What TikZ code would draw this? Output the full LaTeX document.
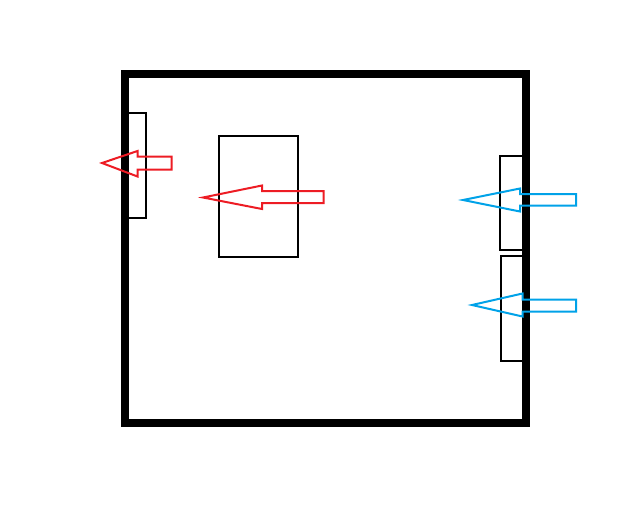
\documentclass[tikz,border=0pt]{standalone}
\definecolor{pred}{RGB}{237,28,36}
\definecolor{pblue}{RGB}{0,162,232}
\tikzset{
  wall/.style={draw=black,line width=8pt},
  panel/.style={draw=black,line width=2pt},
  redarrow/.style={draw=pred,line width=2pt,line join=miter},
  bluearrow/.style={draw=pblue,line width=2pt,line join=miter}
}
\begin{document}
\begin{tikzpicture}[x=1pt,y=-1pt]
\useasboundingbox (0,0) rectangle (640,504);
% panels
\draw[panel] (127,113) rectangle (146,218);
\draw[panel] (218.5,135.5) rectangle (297.5,256.5);
\draw[panel] (500,156) rectangle (524,250);
\draw[panel] (501,256) rectangle (524,360.5);
% outer box
\draw[wall] (124.5,74) rectangle (526,423);
% red arrows
\draw[redarrow] (102,163) -- (137.5,151) -- (137.5,156.5) -- (171.5,156.5) -- (171.5,169.5) -- (137.5,169.5) -- (137.5,176.5) -- cycle;
\draw[redarrow] (203,197.5) -- (262,185.5) -- (262,191) -- (323.5,191) -- (323.5,203) -- (262,203) -- (262,209) -- cycle;
% blue arrows
\draw[bluearrow] (463,200) -- (520,188.5) -- (520,194) -- (576,194) -- (576,205.5) -- (520,205.5) -- (520,211.5) -- cycle;
\draw[bluearrow] (472,305) -- (522.5,293.5) -- (522.5,299.5) -- (576,299.5) -- (576,311.5) -- (522.5,311.5) -- (522.5,316.5) -- cycle;
\end{tikzpicture}
\end{document}
